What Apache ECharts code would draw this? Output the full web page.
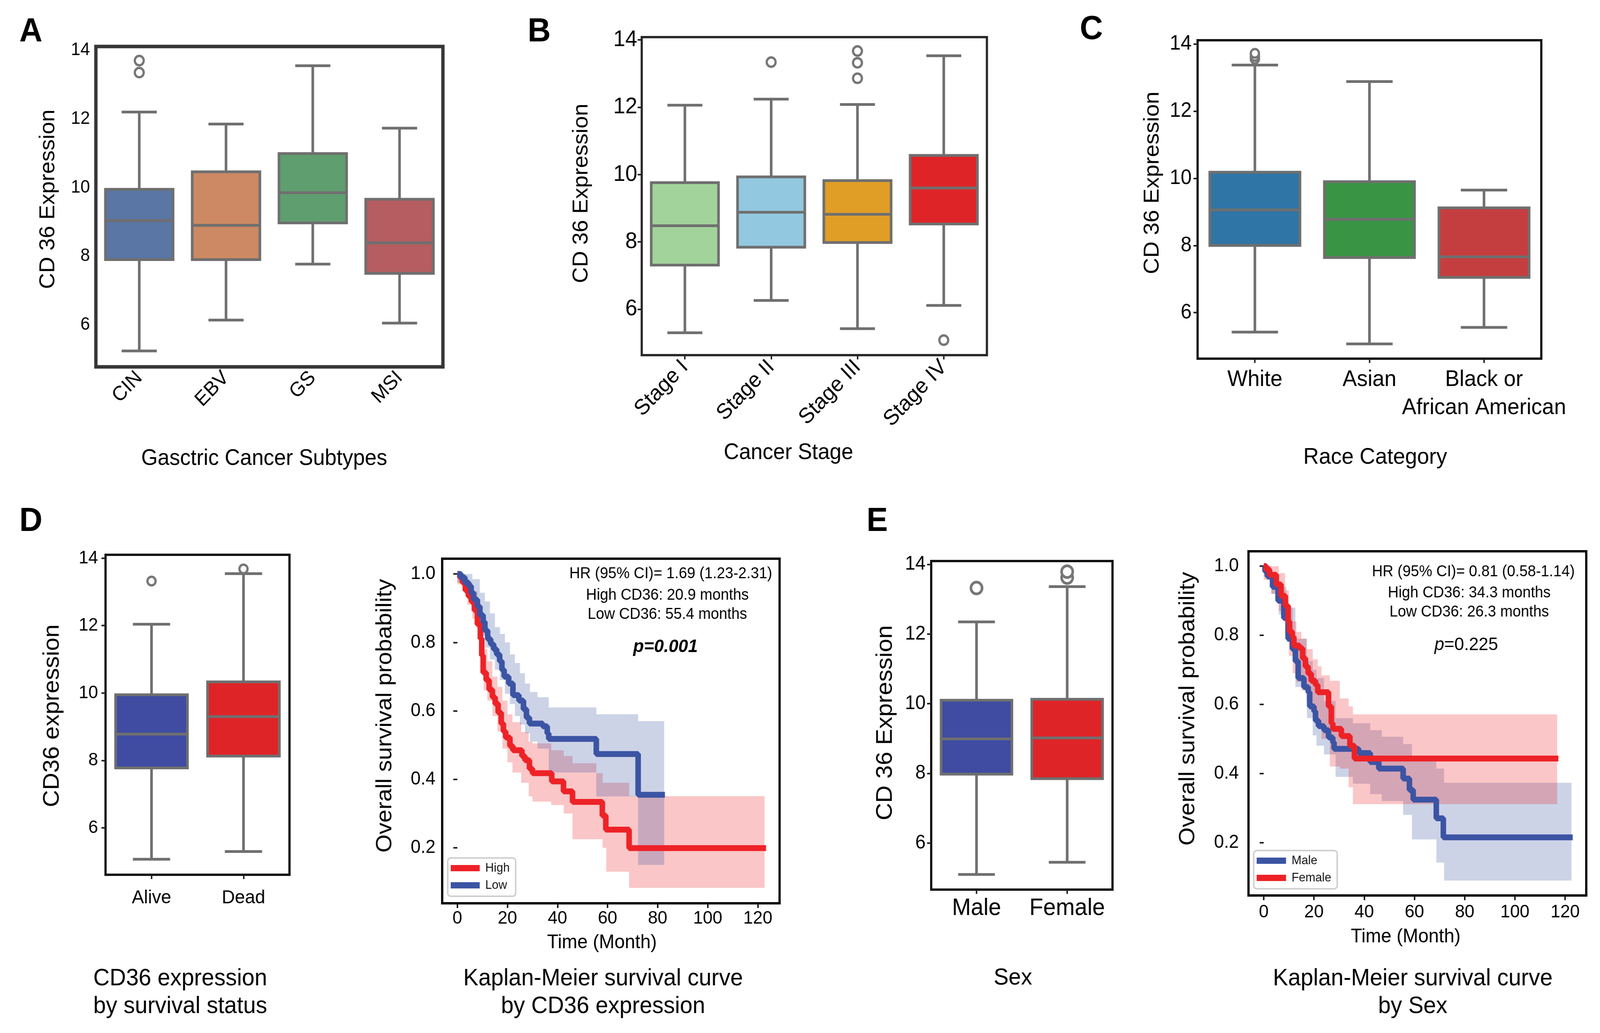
<!DOCTYPE html>
<html>
<head>
<meta charset="utf-8">
<script src="https://cdn.jsdelivr.net/npm/echarts/dist/echarts.min.js"></script>
<style>
html,body{margin:0;padding:0;background:#fff;overflow:hidden;width:100%;height:100%;}
#wrap{position:fixed;left:0;top:0;width:100vw;height:100vh;overflow:hidden;background:#fff;}
#chart{position:absolute;left:0;top:0;width:4306px;height:2644px;transform-origin:0 0;}
</style>
</head>
<body>
<div id="wrap"><div id="chart"></div></div>
<script>
// ---------------- DATA ----------------
// Box plots: [min (lower whisker), Q1, median, Q3, max (upper whisker)]
const catsA = ['CIN', 'EBV', 'GS', 'MSI'];
const boxA = [[5.24, 7.90, 9.04, 9.95, 12.20], [6.14, 7.90, 8.90, 10.46, 11.85], [7.77, 8.97, 9.85, 10.99, 13.55], [6.05, 7.50, 8.39, 9.66, 11.73]];
const outA = [[0, 13.35], [0, 13.70]];

const catsB = ['Stage I', 'Stage II', 'Stage III', 'Stage IV'];
const boxB = [[5.30, 7.31, 8.48, 9.76, 12.06], [6.26, 7.84, 8.88, 9.93, 12.24], [5.42, 7.98, 8.82, 9.82, 12.08], [6.11, 8.53, 9.60, 10.57, 13.53]];
const outB = [[1, 13.34], [2, 13.67], [2, 13.32], [2, 12.86], [3, 5.08]];

const catsC = ['White', 'Asian', 'Black or\nAfrican American'];
const boxC = [[5.42, 8.00, 9.06, 10.18, 13.37], [5.07, 7.64, 8.78, 9.90, 12.88], [5.56, 7.05, 7.66, 9.12, 9.65]];
const outC = [[0, 13.55], [0, 13.63], [0, 13.72]];

const catsD = ['Alive', 'Dead'];
const boxD = [[5.07, 7.78, 8.78, 9.95, 12.04], [5.30, 8.13, 9.30, 10.33, 13.54]];
const outD = [[0, 13.32], [1, 13.68]];

const catsE = ['Male', 'Female'];
const boxE = [[5.10, 7.98, 8.99, 10.10, 12.35], [5.45, 7.85, 9.02, 10.13, 13.36]];
const outE = [[0, 13.32], [1, 13.62], [1, 13.79]];

const boxTicks = [6, 8, 10, 12, 14];
const kmYTicks = [0.2, 0.4, 0.6, 0.8, 1.0];
const kmXTicks = [0, 20, 40, 60, 80, 100, 120];

// Kaplan-Meier, panel D (by CD36 expression): event times and survival after each step
const kmHighT = [0, 1, 2, 3.2, 4.4, 5.6, 6.8, 8, 9.2, 9.75, 10.3, 11.5, 12.7, 14, 15.1, 16.3, 17.5, 18.4, 19.3, 21, 22.2, 25.8, 27, 28.8, 30, 37.7, 42.4, 46, 57.9, 59.3, 68.6, 123.3];
const kmHighS = [1.0, 0.99, 0.975, 0.952, 0.935, 0.919, 0.894, 0.853, 0.811, 0.762, 0.712, 0.69, 0.662, 0.64, 0.621, 0.595, 0.563, 0.54, 0.522, 0.497, 0.485, 0.468, 0.456, 0.431, 0.418, 0.394, 0.365, 0.334, 0.294, 0.253, 0.199, 0.199];
const kmLowT = [0, 1.5, 3, 4.5, 5.5, 6.5, 8, 9, 10.3, 11, 12.1, 13.3, 14.5, 15.7, 16.9, 17.8, 18.7, 20.5, 22.2, 24.6, 26.4, 27.6, 28.8, 34.1, 35.9, 36.5, 55.5, 72.2, 82.9];
const kmLowS = [1.0, 0.99, 0.975, 0.965, 0.945, 0.925, 0.905, 0.88, 0.86, 0.835, 0.81, 0.795, 0.78, 0.765, 0.745, 0.72, 0.70, 0.68, 0.646, 0.63, 0.605, 0.58, 0.563, 0.555, 0.534, 0.518, 0.474, 0.355, 0.355];
// 95% CI bands (step starts, lower, upper, end time)
const bandHighT = [0, 2, 4, 6, 8, 9.5, 10.5, 12, 14, 16, 18, 20, 22, 25.5, 28.5, 30, 37.5, 42.5, 46, 55.5, 58, 59.5, 68.6];
const bandHighLo = [0.97, 0.95, 0.91, 0.87, 0.81, 0.75, 0.66, 0.63, 0.585, 0.54, 0.49, 0.45, 0.42, 0.39, 0.35, 0.335, 0.325, 0.30, 0.225, 0.225, 0.20, 0.13, 0.083];
const bandHighHi = [1.0, 0.995, 0.975, 0.95, 0.89, 0.845, 0.78, 0.745, 0.70, 0.67, 0.63, 0.59, 0.567, 0.538, 0.51, 0.505, 0.485, 0.468, 0.447, 0.418, 0.39, 0.39, 0.351];
const bandHighEnd = 122.7;
const bandLowT = [0, 3, 6, 9, 11, 13, 15, 17, 19, 21, 23, 25, 27, 29, 32, 36.5, 55.5, 72.2];
const bandLowLo = [0.975, 0.94, 0.89, 0.82, 0.785, 0.75, 0.72, 0.69, 0.65, 0.62, 0.585, 0.56, 0.535, 0.51, 0.49, 0.42, 0.35, 0.15];
const bandLowHi = [1.0, 1.0, 0.985, 0.945, 0.92, 0.885, 0.845, 0.825, 0.80, 0.765, 0.74, 0.71, 0.68, 0.655, 0.64, 0.61, 0.59, 0.57];
const bandLowEnd = 82.6;

// Kaplan-Meier, panel E (by sex)
const kmMaleT = [0, 0.5, 1.5, 3.5, 5.7, 8, 9.7, 11.4, 12.6, 13.7, 16, 17.7, 18.3, 20, 20.6, 21.8, 24, 25.8, 27.5, 28, 37.8, 42.4, 45.8, 55.5, 58, 59.5, 68.7, 71.5, 123];
const kmMaleS = [1.0, 0.985, 0.97, 0.94, 0.90, 0.85, 0.79, 0.76, 0.725, 0.676, 0.65, 0.635, 0.594, 0.58, 0.553, 0.537, 0.525, 0.504, 0.49, 0.471, 0.459, 0.433, 0.414, 0.385, 0.352, 0.324, 0.27, 0.215, 0.215];
const kmFemaleT = [0, 1, 2.3, 5, 6.9, 8.6, 9.7, 10.3, 11.4, 12, 14.3, 15.5, 16.6, 17.7, 18.9, 20.6, 21.5, 25.8, 26.9, 27.5, 30.9, 34.3, 36.1, 117.3];
const kmFemaleS = [1.0, 0.99, 0.975, 0.947, 0.914, 0.885, 0.84, 0.81, 0.795, 0.77, 0.762, 0.733, 0.709, 0.689, 0.668, 0.656, 0.635, 0.594, 0.545, 0.529, 0.508, 0.48, 0.443, 0.443];
const bandMaleT = [0, 3, 6, 9, 12.6, 17.2, 19.5, 21, 24, 28.6, 35.5, 42.4, 47, 55.5, 59, 68.7, 71.8];
const bandMaleLo = [0.97, 0.92, 0.86, 0.78, 0.65, 0.56, 0.51, 0.48, 0.455, 0.39, 0.37, 0.34, 0.32, 0.28, 0.209, 0.142, 0.09];
const bandMaleHi = [1.0, 0.975, 0.94, 0.88, 0.79, 0.725, 0.70, 0.676, 0.61, 0.56, 0.545, 0.525, 0.506, 0.485, 0.45, 0.414, 0.373];
const bandMaleEnd = 122.5;
const bandFemaleT = [0, 3, 6, 8.5, 10, 11.5, 13, 15, 17, 19.5, 21.5, 23, 26.3, 30.3, 33.8, 35.5];
const bandFemaleLo = [0.96, 0.92, 0.87, 0.80, 0.74, 0.69, 0.665, 0.64, 0.61, 0.575, 0.54, 0.50, 0.42, 0.414, 0.36, 0.311];
const bandFemaleHi = [1.0, 1.0, 0.98, 0.93, 0.88, 0.84, 0.81, 0.79, 0.76, 0.73, 0.71, 0.684, 0.668, 0.617, 0.594, 0.571];
const bandFemaleEnd = 116.8;

// ---------------- STYLE ----------------
const FONT = "'Liberation Sans', Arial, Helvetica, sans-serif";
const EDGE = '#6f6f6f';
const colorsA = ['#5976a4', '#cc8963', '#5f9e6e', '#b55d60'];
const colorsB = ['#a2d39a', '#92c8e0', '#e09e27', '#df2428'];
const colorsC = ['#2f75a6', '#399444', '#c53e3f'];
const colorsD = ['#3f4ca1', '#df2428'];
const colorsE = ['#3f4ca1', '#df2428'];
const KM_RED = '#ed2227';
const KM_BLUE = '#3b54a3';

// fit the 4306x2644 design onto the whole actual viewport
const chartDom = document.getElementById('chart');
const vw = document.documentElement.clientWidth || window.innerWidth;
const vh = document.documentElement.clientHeight || window.innerHeight;
const SX = vw / 4306, SY = vh / 2644;
if (Math.abs(SX - 1) > 0.001 || Math.abs(SY - 1) > 0.001) chartDom.style.transform = 'scale(' + SX + ',' + SY + ')';

function boxRenderer(colors, lw) {
  return function (params, api) {
    const i = api.value(0);
    const vals = [1, 2, 3, 4, 5].map(k => api.value(k));
    const pts = vals.map(v => api.coord([i, v]));
    const band = api.size([1, 0])[0];
    const bw = band * 0.81;
    const cx = pts[0][0];
    const ls = { stroke: EDGE, lineWidth: lw };
    return {
      type: 'group',
      children: [
        { type: 'line', shape: { x1: cx, y1: pts[0][1], x2: cx, y2: pts[1][1] }, style: ls },
        { type: 'line', shape: { x1: cx, y1: pts[3][1], x2: cx, y2: pts[4][1] }, style: ls },
        { type: 'line', shape: { x1: cx - bw / 4, y1: pts[0][1], x2: cx + bw / 4, y2: pts[0][1] }, style: ls },
        { type: 'line', shape: { x1: cx - bw / 4, y1: pts[4][1], x2: cx + bw / 4, y2: pts[4][1] }, style: ls },
        { type: 'rect', shape: { x: cx - bw / 2 + lw / 2, y: pts[3][1], width: bw - lw, height: pts[1][1] - pts[3][1] },
          style: { fill: colors[params.dataIndex], stroke: EDGE, lineWidth: lw } },
        { type: 'line', shape: { x1: cx - bw / 2 + lw / 2, y1: pts[2][1], x2: cx + bw / 2 - lw / 2, y2: pts[2][1] }, style: ls }
      ]
    };
  };
}

function bandRenderer(T, LO, HI, END, fill) {
  return function (params, api) {
    const up = [], low = [];
    for (let i = 0; i < T.length; i++) {
      const t1 = i + 1 < T.length ? T[i + 1] : END;
      up.push(api.coord([T[i], HI[i]]));
      up.push(api.coord([t1, HI[i]]));
      low.push(api.coord([T[i], LO[i]]));
      low.push(api.coord([t1, LO[i]]));
    }
    const points = up.concat(low.reverse());
    return { type: 'polygon', shape: { points: points }, style: { fill: fill } };
  };
}

const zip = (a, b) => a.map((v, i) => [v, b[i]]);

function boxSeries(idx, cats, box, colors, lw) {
  return {
    type: 'custom', name: 'box' + idx, xAxisIndex: idx, yAxisIndex: idx,
    data: box.map((b, i) => [i].concat(b)),
    encode: { x: 0, y: [1, 2, 3, 4, 5] },
    renderItem: boxRenderer(colors, lw), z: 3, silent: true
  };
}
function outSeries(idx, out, size, bw) {
  return {
    type: 'scatter', name: 'out' + idx, xAxisIndex: idx, yAxisIndex: idx,
    data: out, symbol: 'circle', symbolSize: size,
    itemStyle: { color: '#ffffff', borderColor: '#767676', borderWidth: bw, opacity: 1 }, z: 4, silent: true
  };
}
function bandSeries(idx, T, LO, HI, END, fill) {
  return {
    type: 'custom', xAxisIndex: idx, yAxisIndex: idx, data: [[0, 0.5]],
    renderItem: bandRenderer(T, LO, HI, END, fill), z: 2, silent: true
  };
}
function kmSeries(idx, name, T, S, color) {
  return {
    type: 'line', name: name, xAxisIndex: idx, yAxisIndex: idx, data: zip(T, S), step: 'end',
    symbol: 'none', showSymbol: false, lineStyle: { color: color, width: 15, cap: 'butt' },
    itemStyle: { color: color }, z: 5, silent: true
  };
}

function catX(idx, cats, o) {
  return {
    type: 'category', gridIndex: idx, data: cats, boundaryGap: true,
    axisLine: { show: false },
    axisTick: { show: o.tick, alignWithLabel: true, length: 11, lineStyle: { color: '#222', width: 4 } },
    axisLabel: { fontFamily: FONT, fontSize: o.fs, color: '#000', rotate: o.rot || 0, margin: o.margin, lineHeight: o.lh || o.fs * 1.2, interval: 0 },
    splitLine: { show: false }
  };
}
function valY(idx, min, max, ticks, o) {
  return {
    type: 'value', gridIndex: idx, min: min, max: max,
    axisLine: { show: false },
    axisTick: { show: o.tick, customValues: ticks, length: 11, lineStyle: { color: '#222', width: 4 } },
    axisLabel: { fontFamily: FONT, fontSize: o.fs, color: '#000', margin: o.margin, customValues: ticks,
      formatter: o.fmt || (v => String(v)) },
    splitLine: { show: false }
  };
}
function valX(idx, min, max, ticks, o) {
  return {
    type: 'value', gridIndex: idx, min: min, max: max,
    axisLine: { show: false },
    axisTick: { show: true, customValues: ticks, length: 12, lineStyle: { color: '#111', width: 4 } },
    axisLabel: { fontFamily: FONT, fontSize: o.fs, color: '#000', margin: o.margin, customValues: ticks },
    splitLine: { show: false }
  };
}

function T(text, x, y, size, o) {
  o = o || {};
  const st = { text: text, fontFamily: FONT, fontSize: size, fontWeight: o.weight || 'normal', fontStyle: o.style || 'normal',
    fill: '#000', textAlign: o.align || 'center', textVerticalAlign: 'middle' };
  if (o.rich) st.rich = o.rich;
  return { type: 'text', x: x, y: y, rotation: o.rot || 0, style: st, z: 100, silent: true };
}
const R90 = Math.PI / 2;

const grids = [
  { left: 258, top: 119, width: 934, height: 820, show: true, borderColor: '#363636', borderWidth: 9, backgroundColor: '#fff' },
  { left: 1727, top: 95, width: 929, height: 814, show: true, borderColor: '#2a2a2a', borderWidth: 6, backgroundColor: '#fff' },
  { left: 3223, top: 103, width: 925, height: 815, show: true, borderColor: '#111', borderWidth: 6, backgroundColor: '#fff' },
  { left: 284, top: 1420, width: 495, height: 819, show: true, borderColor: '#111', borderWidth: 6, backgroundColor: '#fff' },
  { left: 1190, top: 1430, width: 908, height: 882, show: true, borderColor: '#000', borderWidth: 6, backgroundColor: '#fff' },
  { left: 2506, top: 1436, width: 488, height: 841, show: true, borderColor: '#111', borderWidth: 6, backgroundColor: '#fff' },
  { left: 3360, top: 1411, width: 909, height: 881, show: true, borderColor: '#000', borderWidth: 6, backgroundColor: '#fff' }
];

const fmt1 = v => v.toFixed(1);

const option = {
  animation: false,
  backgroundColor: '#ffffff',
  grid: grids,
  xAxis: [
    catX(0, catsA, { tick: false, fs: 52, rot: 45, margin: 20 }),
    catX(1, catsB, { tick: true, fs: 56, rot: 45, margin: 22 }),
    catX(2, catsC, { tick: true, fs: 58, margin: 18, lh: 72 }),
    catX(3, catsD, { tick: true, fs: 49, margin: 30 }),
    valX(4, -6.06, 128.7, kmXTicks, { fs: 47, margin: 16 }),
    catX(5, catsE, { tick: true, fs: 61, margin: 12 }),
    valX(6, -6.07, 128.4, kmXTicks, { fs: 47, margin: 20 })
  ],
  yAxis: [
    valY(0, 4.776, 14.11, boxTicks, { tick: false, fs: 46, margin: 16 }),
    valY(1, 4.634, 14.083, boxTicks, { tick: true, fs: 58, margin: 12 }),
    valY(2, 4.63, 14.11, boxTicks, { tick: true, fs: 53, margin: 16 }),
    valY(3, 4.61, 14.10, boxTicks, { tick: true, fs: 47, margin: 20 }),
    valY(4, 0.0378, 1.0447, kmYTicks, { tick: true, fs: 48, margin: 18, fmt: fmt1 }),
    valY(5, 4.666, 14.095, boxTicks, { tick: true, fs: 50, margin: 15 }),
    valY(6, 0.0467, 1.043, kmYTicks, { tick: true, fs: 48, margin: 26, fmt: fmt1 })
  ],
  legend: [
    { data: ['High', 'Low'], left: 1205, top: 2196, orient: 'vertical', icon: 'rect', itemWidth: 78, itemHeight: 16, itemGap: 12,
      padding: [10, 16, 12, 8], borderColor: '#cfcfcf', borderWidth: 4, borderRadius: 8, backgroundColor: '#fff', selectedMode: false,
      textStyle: { fontFamily: FONT, fontSize: 32, color: '#111', padding: [0, 0, 0, 10] } },
    { data: ['Male', 'Female'], left: 3374, top: 2177, orient: 'vertical', icon: 'rect', itemWidth: 79, itemHeight: 16, itemGap: 12,
      padding: [10, 16, 12, 8], borderColor: '#cfcfcf', borderWidth: 4, borderRadius: 8, backgroundColor: '#fff', selectedMode: false,
      textStyle: { fontFamily: FONT, fontSize: 32, color: '#111', padding: [0, 0, 0, 10] } }
  ],
  series: [
    boxSeries(0, catsA, boxA, colorsA, 7), outSeries(0, outA, 24, 6),
    boxSeries(1, catsB, boxB, colorsB, 7), outSeries(1, outB, 24, 6),
    boxSeries(2, catsC, boxC, colorsC, 7), outSeries(2, outC, 22, 6),
    boxSeries(3, catsD, boxD, colorsD, 7), outSeries(3, outD, 22, 6),
    boxSeries(5, catsE, boxE, colorsE, 7), outSeries(5, outE, 30, 7),
    bandSeries(4, bandHighT, bandHighLo, bandHighHi, bandHighEnd, 'rgba(237,34,39,0.26)'),
    bandSeries(4, bandLowT, bandLowLo, bandLowHi, bandLowEnd, 'rgba(59,84,163,0.26)'),
    kmSeries(4, 'High', kmHighT, kmHighS, KM_RED),
    kmSeries(4, 'Low', kmLowT, kmLowS, KM_BLUE),
    bandSeries(6, bandMaleT, bandMaleLo, bandMaleHi, bandMaleEnd, 'rgba(59,84,163,0.26)'),
    bandSeries(6, bandFemaleT, bandFemaleLo, bandFemaleHi, bandFemaleEnd, 'rgba(237,34,39,0.26)'),
    kmSeries(6, 'Male', kmMaleT, kmMaleS, KM_BLUE),
    kmSeries(6, 'Female', kmFemaleT, kmFemaleS, KM_RED)
  ],
  graphic: [
    // panel letters
    T('A', 52, 82, 86, { weight: 'bold', align: 'left' }),
    T('B', 1420, 82, 86, { weight: 'bold', align: 'left' }),
    T('C', 2906, 76, 86, { weight: 'bold', align: 'left' }),
    T('D', 52, 1335, 86, { weight: 'bold', align: 'left' }),
    T('E', 2332, 1335, 86, { weight: 'bold', align: 'left' }),
    // y-axis titles
    T('CD 36 Expression', 130, 510, 57, { rot: R90 }),
    T('CD 36 Expression', 1565, 495, 57, { rot: R90 }),
    T('CD 36 Expression', 3102, 468, 58, { rot: R90 }),
    T('CD36 expression', 141, 1832, 61, { rot: R90 }),
    T('Overall survival probability', 1036, 1832, 60, { rot: R90 }),
    T('CD 36 Expression', 2383, 1850, 62, { rot: R90 }),
    T('Overall survival probability', 3197, 1814, 60, { rot: R90 }),
    // x-axis titles
    T('Gasctric Cancer Subtypes', 711, 1174, 57),
    T('Cancer Stage', 2122, 1159, 57),
    T('Race Category', 3701, 1171, 58),
    T('Time (Month)', 1620, 2413, 50),
    T('Time (Month)', 3783, 2398, 50),
    // bottom captions
    T('CD36 expression', 485, 2505, 61),
    T('by survival status', 485, 2576, 61),
    T('Kaplan-Meier survival curve', 1623, 2505, 61),
    T('by CD36 expression', 1623, 2576, 61),
    T('Sex', 2726, 2503, 60),
    T('Kaplan-Meier survival curve', 3802, 2505, 61),
    T('by Sex', 3802, 2576, 61),
    // KM annotations
    T('HR (95% CI)= 1.69 (1.23-2.31)', 2078, 1469, 40, { align: 'right' }),
    T('High CD36: 20.9 months', 1796, 1524, 40),
    T('Low CD36: 55.4 months', 1796, 1573, 40),
    T('p=0.001', 1791, 1656, 47, { weight: 'bold', style: 'italic' }),
    T('HR (95% CI)= 0.81 (0.58-1.14)', 4238, 1464, 40, { align: 'right' }),
    T('High CD36: 34.3 months', 3954, 1518, 40),
    T('Low CD36: 26.3 months', 3954, 1567, 40),
    T('{i|p}=0.225', 3946, 1651, 47, { rich: { i: { fontStyle: 'italic', fontSize: 47, fontFamily: FONT } } })
  ]
};

const chart = echarts.init(chartDom, null, { renderer: 'canvas' });
chart.setOption(option);
</script>
</body>
</html>
